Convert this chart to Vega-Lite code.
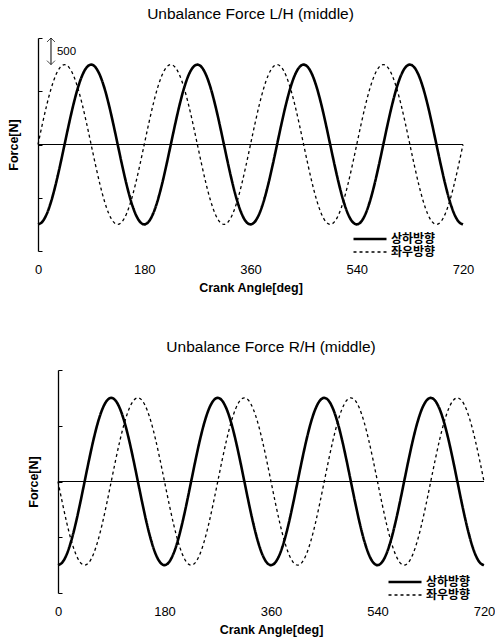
{
  "$schema": "https://vega.github.io/schema/vega-lite/v6.json",
  "background": "white",
  "padding": {"left": 6, "top": 6, "right": 0, "bottom": 5},
  "config": {
    "view": {"stroke": null},
    "font": "Liberation Sans",
    "title": {"fontSize": 15.5, "fontWeight": "normal", "color": "black", "anchor": "middle", "offset": 14, "font": "Liberation Sans"},
    "axis": {"domainColor": "black", "tickColor": "black", "labelColor": "black", "titleColor": "black", "labelFont": "Liberation Sans", "titleFont": "Liberation Sans", "grid": false},
    "legend": {"title": null, "orient": "none", "symbolType": "stroke", "symbolSize": 1089, "symbolStrokeColor": "black", "labelFont": "Noto Sans CJK KR", "labelFontSize": 12, "labelFontWeight": "bold", "labelColor": "black", "padding": 0, "labelOffset": 15, "rowPadding": 1}
  },
  "datasets": {
    "w": [
      {"a":0,"v":-1500,"l":0,"r":0},
      {"a":7.5,"v":-1449,"l":388,"r":-388},
      {"a":15,"v":-1299,"l":750,"r":-750},
      {"a":22.5,"v":-1061,"l":1061,"r":-1061},
      {"a":30,"v":-750,"l":1299,"r":-1299},
      {"a":37.5,"v":-388,"l":1449,"r":-1449},
      {"a":45,"v":0,"l":1500,"r":-1500},
      {"a":52.5,"v":388,"l":1449,"r":-1449},
      {"a":60,"v":750,"l":1299,"r":-1299},
      {"a":67.5,"v":1061,"l":1061,"r":-1061},
      {"a":75,"v":1299,"l":750,"r":-750},
      {"a":82.5,"v":1449,"l":388,"r":-388},
      {"a":90,"v":1500,"l":0,"r":0},
      {"a":97.5,"v":1449,"l":-388,"r":388},
      {"a":105,"v":1299,"l":-750,"r":750},
      {"a":112.5,"v":1061,"l":-1061,"r":1061},
      {"a":120,"v":750,"l":-1299,"r":1299},
      {"a":127.5,"v":388,"l":-1449,"r":1449},
      {"a":135,"v":0,"l":-1500,"r":1500},
      {"a":142.5,"v":-388,"l":-1449,"r":1449},
      {"a":150,"v":-750,"l":-1299,"r":1299},
      {"a":157.5,"v":-1061,"l":-1061,"r":1061},
      {"a":165,"v":-1299,"l":-750,"r":750},
      {"a":172.5,"v":-1449,"l":-388,"r":388},
      {"a":180,"v":-1500,"l":0,"r":0},
      {"a":187.5,"v":-1449,"l":388,"r":-388},
      {"a":195,"v":-1299,"l":750,"r":-750},
      {"a":202.5,"v":-1061,"l":1061,"r":-1061},
      {"a":210,"v":-750,"l":1299,"r":-1299},
      {"a":217.5,"v":-388,"l":1449,"r":-1449},
      {"a":225,"v":0,"l":1500,"r":-1500},
      {"a":232.5,"v":388,"l":1449,"r":-1449},
      {"a":240,"v":750,"l":1299,"r":-1299},
      {"a":247.5,"v":1061,"l":1061,"r":-1061},
      {"a":255,"v":1299,"l":750,"r":-750},
      {"a":262.5,"v":1449,"l":388,"r":-388},
      {"a":270,"v":1500,"l":0,"r":0},
      {"a":277.5,"v":1449,"l":-388,"r":388},
      {"a":285,"v":1299,"l":-750,"r":750},
      {"a":292.5,"v":1061,"l":-1061,"r":1061},
      {"a":300,"v":750,"l":-1299,"r":1299},
      {"a":307.5,"v":388,"l":-1449,"r":1449},
      {"a":315,"v":0,"l":-1500,"r":1500},
      {"a":322.5,"v":-388,"l":-1449,"r":1449},
      {"a":330,"v":-750,"l":-1299,"r":1299},
      {"a":337.5,"v":-1061,"l":-1061,"r":1061},
      {"a":345,"v":-1299,"l":-750,"r":750},
      {"a":352.5,"v":-1449,"l":-388,"r":388},
      {"a":360,"v":-1500,"l":0,"r":0},
      {"a":367.5,"v":-1449,"l":388,"r":-388},
      {"a":375,"v":-1299,"l":750,"r":-750},
      {"a":382.5,"v":-1061,"l":1061,"r":-1061},
      {"a":390,"v":-750,"l":1299,"r":-1299},
      {"a":397.5,"v":-388,"l":1449,"r":-1449},
      {"a":405,"v":0,"l":1500,"r":-1500},
      {"a":412.5,"v":388,"l":1449,"r":-1449},
      {"a":420,"v":750,"l":1299,"r":-1299},
      {"a":427.5,"v":1061,"l":1061,"r":-1061},
      {"a":435,"v":1299,"l":750,"r":-750},
      {"a":442.5,"v":1449,"l":388,"r":-388},
      {"a":450,"v":1500,"l":0,"r":0},
      {"a":457.5,"v":1449,"l":-388,"r":388},
      {"a":465,"v":1299,"l":-750,"r":750},
      {"a":472.5,"v":1061,"l":-1061,"r":1061},
      {"a":480,"v":750,"l":-1299,"r":1299},
      {"a":487.5,"v":388,"l":-1449,"r":1449},
      {"a":495,"v":0,"l":-1500,"r":1500},
      {"a":502.5,"v":-388,"l":-1449,"r":1449},
      {"a":510,"v":-750,"l":-1299,"r":1299},
      {"a":517.5,"v":-1061,"l":-1061,"r":1061},
      {"a":525,"v":-1299,"l":-750,"r":750},
      {"a":532.5,"v":-1449,"l":-388,"r":388},
      {"a":540,"v":-1500,"l":0,"r":0},
      {"a":547.5,"v":-1449,"l":388,"r":-388},
      {"a":555,"v":-1299,"l":750,"r":-750},
      {"a":562.5,"v":-1061,"l":1061,"r":-1061},
      {"a":570,"v":-750,"l":1299,"r":-1299},
      {"a":577.5,"v":-388,"l":1449,"r":-1449},
      {"a":585,"v":0,"l":1500,"r":-1500},
      {"a":592.5,"v":388,"l":1449,"r":-1449},
      {"a":600,"v":750,"l":1299,"r":-1299},
      {"a":607.5,"v":1061,"l":1061,"r":-1061},
      {"a":615,"v":1299,"l":750,"r":-750},
      {"a":622.5,"v":1449,"l":388,"r":-388},
      {"a":630,"v":1500,"l":0,"r":0},
      {"a":637.5,"v":1449,"l":-388,"r":388},
      {"a":645,"v":1299,"l":-750,"r":750},
      {"a":652.5,"v":1061,"l":-1061,"r":1061},
      {"a":660,"v":750,"l":-1299,"r":1299},
      {"a":667.5,"v":388,"l":-1449,"r":1449},
      {"a":675,"v":0,"l":-1500,"r":1500},
      {"a":682.5,"v":-388,"l":-1449,"r":1449},
      {"a":690,"v":-750,"l":-1299,"r":1299},
      {"a":697.5,"v":-1061,"l":-1061,"r":1061},
      {"a":705,"v":-1299,"l":-750,"r":750},
      {"a":712.5,"v":-1449,"l":-388,"r":388},
      {"a":720,"v":-1500,"l":0,"r":0}
    ]
  },
  "resolve": {"scale": {"x": "independent", "y": "independent", "strokeDash": "independent"}, "legend": {"strokeDash": "independent"}},
  "spacing": 46,
  "vconcat": [
    {
      "spacing": 0,
      "hconcat": [
        {"width": 1, "height": 10, "data": {"values": []}, "mark": "point"},
        {
          "title": "Unbalance Force L/H (middle)",
          "width": 425,
          "height": 213,
          "layer": [
            {
              "data": {"name": "w"},
              "transform": [{"fold": ["v", "l"], "as": ["dir", "force"]}],
              "mark": {"type": "line", "interpolate": "monotone", "color": "black"},
              "encoding": {
                "x": {"field": "a", "type": "quantitative", "scale": {"domain": [0, 720], "nice": false, "zero": false},
                      "axis": {"values": [0, 180, 360, 540, 720], "domain": false, "ticks": false, "labelFontSize": 13, "labelPadding": 12, "labelFlush": false, "title": "Crank Angle[deg]", "titleFontSize": 12.5, "titleFontWeight": "bold", "titlePadding": 5}},
                "y": {"field": "force", "type": "quantitative", "scale": {"domain": [-2000, 2000], "nice": false},
                      "axis": {"values": [-2000, -1500, -1000, -500, 0, 500, 1000, 1500, 2000], "labels": false, "tickSize": -4, "title": "Force[N]", "titleFontSize": 12.5, "titleFontWeight": "bold", "titlePadding": 17, "domainWidth": 1.3}},
                "strokeDash": {"field": "dir", "type": "nominal", "scale": {"domain": ["v", "l"], "range": [[1, 0], [3, 3]]},
                               "legend": {"legendX": 358, "legendY": 195, "labelExpr": "datum.value == 'v' ? '상하방향' : '좌우방향'",
                                          "encode": {"symbols": {"update": {"strokeWidth": {"signal": "datum.value == 'v' ? 2.6 : 1.3"}}}}}},
                "strokeWidth": {"condition": {"test": "datum.dir == 'v'", "value": 2.6}, "value": 1.3}
              }
            },
            {
              "data": {"values": [{}]},
              "mark": {"type": "rule", "color": "black", "strokeWidth": 1.2},
              "encoding": {"y": {"datum": 0}}
            },
            {
              "data": {"values": [{}]},
              "mark": {"type": "rule", "color": "black", "strokeWidth": 1},
              "encoding": {"x": {"datum": 22}, "y": {"datum": 2000}, "y2": {"datum": 1500}}
            },
            {
              "data": {"values": [{}]},
              "mark": {"type": "point", "shape": "M-1,1L0,0L1,1", "size": 64, "filled": false, "stroke": "black", "strokeWidth": 1},
              "encoding": {"x": {"datum": 22}, "y": {"datum": 2000}}
            },
            {
              "data": {"values": [{}]},
              "mark": {"type": "point", "shape": "M-1,-1L0,0L1,-1", "size": 64, "filled": false, "stroke": "black", "strokeWidth": 1},
              "encoding": {"x": {"datum": 22}, "y": {"datum": 1500}}
            },
            {
              "data": {"values": [{}]},
              "mark": {"type": "text", "text": "500", "align": "left", "baseline": "middle", "fontSize": 11.5, "color": "black", "font": "Liberation Sans"},
              "encoding": {"x": {"datum": 32}, "y": {"datum": 1740}}
            }
          ]
        }
      ]
    },
    {
      "spacing": 0,
      "hconcat": [
        {"width": 21, "height": 10, "data": {"values": []}, "mark": "point"},
        {
          "title": "Unbalance Force R/H (middle)",
          "width": 426,
          "height": 223,
          "layer": [
            {
              "data": {"name": "w"},
              "transform": [{"fold": ["v", "r"], "as": ["dir", "force"]}],
              "mark": {"type": "line", "interpolate": "monotone", "color": "black"},
              "encoding": {
                "x": {"field": "a", "type": "quantitative", "scale": {"domain": [0, 720], "nice": false, "zero": false},
                      "axis": {"values": [0, 180, 360, 540, 720], "domain": false, "ticks": false, "labelFontSize": 13, "labelPadding": 12, "labelFlush": false, "title": "Crank Angle[deg]", "titleFontSize": 12.5, "titleFontWeight": "bold", "titlePadding": 5}},
                "y": {"field": "force", "type": "quantitative", "scale": {"domain": [-2000, 2000], "nice": false},
                      "axis": {"values": [-2000, -1500, -1000, -500, 0, 500, 1000, 1500, 2000], "labels": false, "tickSize": -4, "title": "Force[N]", "titleFontSize": 12.5, "titleFontWeight": "bold", "titlePadding": 17, "domainWidth": 1.3}},
                "strokeDash": {"field": "dir", "type": "nominal", "scale": {"domain": ["v", "r"], "range": [[1, 0], [3, 3]]},
                               "legend": {"legendX": 393, "legendY": 206, "labelExpr": "datum.value == 'v' ? '상하방향' : '좌우방향'",
                                          "encode": {"symbols": {"update": {"strokeWidth": {"signal": "datum.value == 'v' ? 2.6 : 1.3"}}}}}},
                "strokeWidth": {"condition": {"test": "datum.dir == 'v'", "value": 2.6}, "value": 1.3}
              }
            },
            {
              "data": {"values": [{}]},
              "mark": {"type": "rule", "color": "black", "strokeWidth": 1.2},
              "encoding": {"y": {"datum": 0}}
            }
          ]
        }
      ]
    }
  ]
}
